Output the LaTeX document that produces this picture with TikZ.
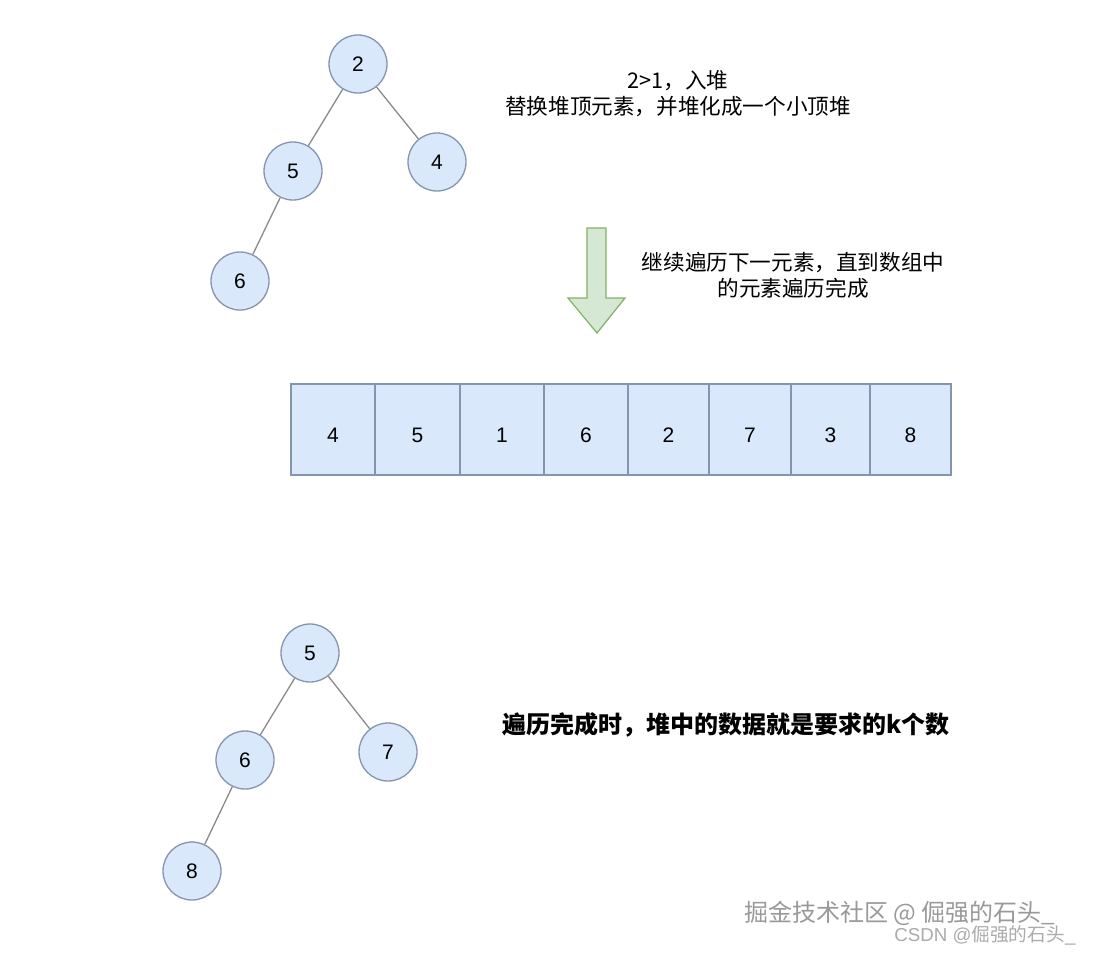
\documentclass[tikz,border=0pt]{standalone}
\usepackage{fontspec}
\setmainfont{Liberation Sans}
\newfontfamily\cjk{Noto Sans CJK SC}
\begin{document}
\begin{tikzpicture}[x=1pt,y=-1pt,
  hnode/.style={circle,draw=nodeline,fill=nodefill,line width=1.3pt,minimum size=58pt,inner sep=0pt,font=\fontsize{21}{21}\selectfont},
  edge/.style={draw=edgegray,line width=1.3pt},
  cell/.style={rectangle,draw=nodeline,fill=nodefill,line width=1.3pt,inner sep=0pt,text height=25pt,text depth=0pt,font=\fontsize{21}{21}\selectfont},
  note/.style={font=\cjk\fontsize{21.6}{26}\selectfont,align=center,text=black},
]
\definecolor{nodefill}{HTML}{DAE8FC}
\definecolor{nodeline}{HTML}{8495AE}
\definecolor{edgegray}{HTML}{8A8A8A}
\definecolor{arrfill}{HTML}{D5E8D4}
\definecolor{arrline}{HTML}{82B366}
\useasboundingbox (0,0) rectangle (1093,954);
\fill[white] (0,0) rectangle (1093,954);

% tree 1
\node[hnode] (a2) at (358,64) {2};
\node[hnode] (a5) at (293,171) {5};
\node[hnode] (a4) at (437,162) {4};
\node[hnode] (a6) at (240,281) {6};
\draw[edge] (a2) -- (a5);
\draw[edge] (a2) -- (a4);
\draw[edge] (a5) -- (a6);

\node[note] (t1) at (678,94) {2>1，入堆\\替换堆顶元素，并堆化成一个小顶堆};

% arrow
\draw[fill=arrfill,draw=arrline,line width=1.2pt,line join=miter]
  (587,228) -- (606,228) -- (606,298) -- (625,298) -- (597,333) -- (568,298) -- (587,298) -- cycle;
\node[note] (t2) at (793,275) {继续遍历下一元素，直到数组中\\的元素遍历完成};

% array
\foreach \l/\r/\v [count=\i] in {291/375/4,375/460/5,460/544/1,544/628/6,628/709/2,709/791/7,791/870/3,870/951/8}{
  \node[cell,minimum width={\r-\l},minimum height=91pt] (c\i) at ({(\l+\r)/2},429.5) {\v};
}

% tree 2
\node[hnode] (b5) at (310,653) {5};
\node[hnode] (b6) at (245,760) {6};
\node[hnode] (b7) at (388,752) {7};
\node[hnode] (b8) at (192,871) {8};
\draw[edge] (b5) -- (b6);
\draw[edge] (b5) -- (b7);
\draw[edge] (b6) -- (b8);

\node[font=\cjk\bfseries\fontsize{24}{28}\selectfont] (t3) at (726,725) {遍历完成时，堆中的数据就是要求的k个数};

% watermarks
\node[font=\cjk\fontsize{24}{26}\selectfont,text=black!40,anchor=west] (w1) at (741,913) {掘金技术社区 @ 倔强的石头\_};
\node[font=\fontsize{18.7}{20}\selectfont,text=black!33,anchor=east] (w2) at (1079,935) {CSDN @{\cjk 倔强的石头}\_};
\end{tikzpicture}
\end{document}
